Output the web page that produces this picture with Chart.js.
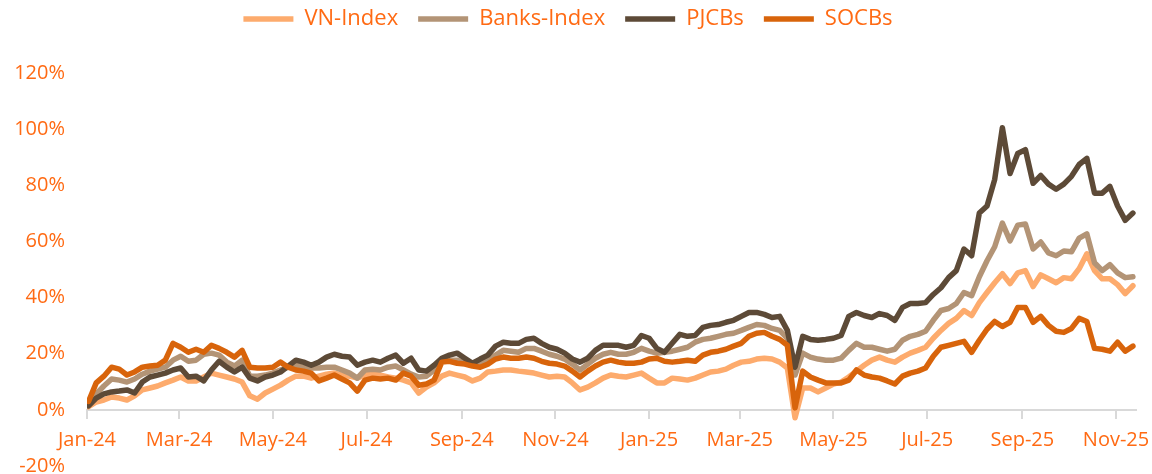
<!DOCTYPE html>
<html>
<head>
<meta charset="utf-8">
<title>Bank stocks vs VN-Index</title>
<script src="https://cdn.jsdelivr.net/npm/chart.js@4.4.1/dist/chart.umd.min.js"></script>
<style>
  html, body { margin: 0; padding: 0; background: #fff; }
  #wrap { width: 1152px; height: 474px; }
</style>
</head>
<body>
<div id="wrap"><canvas id="myChart"></canvas></div>
<script>
// cumulative return (%) since 2 Jan 2024, one reading every 5 calendar days
var startDate = '2024-01-02';
var stepDays = 5;
var endDate = '2025-11-14';

var vnIndex = [
  1.1, 2.8, 3.5, 4.6, 4.2, 3.5, 5.0, 7.1, 7.8, 8.5,
  9.6, 10.6, 11.7, 10.3, 10.3, 11.7, 13.1, 12.4, 11.7, 11.0,
  9.9, 5.0, 3.8, 6.0, 7.4, 8.8, 10.6, 12.0, 12.0, 11.3,
  12.0, 12.7, 13.1, 12.4, 12.0, 11.3, 12.4, 13.1, 12.4, 11.7,
  11.3, 10.6, 9.6, 6.0, 8.1, 9.6, 12.0, 13.1, 12.4, 11.7,
  10.3, 11.3, 13.5, 13.8, 14.2, 14.2, 13.8, 13.5, 13.1, 12.4,
  11.7, 12.0, 11.7, 9.6, 7.1, 8.1, 9.6, 11.3, 12.4, 12.0,
  11.7, 12.4, 13.1, 11.3, 9.6, 9.6, 11.3, 11.0, 10.6, 11.3,
  12.4, 13.5, 13.8, 14.5, 15.9, 17.0, 17.3, 18.1, 18.4, 18.1,
  17.0, 14.9, -2.8, 7.8, 7.8, 6.4, 7.8, 9.2, 9.9, 11.7,
  13.8, 15.9, 17.7, 18.8, 17.7, 17.0, 18.8, 20.2, 21.2, 22.3,
  25.5, 28.3, 30.8, 32.6, 35.4, 33.6, 38.2, 41.8, 45.3, 48.5,
  45.0, 48.8, 49.6, 43.9, 48.1, 46.7, 45.3, 47.1, 46.7, 50.3,
  55.6, 49.6, 46.7, 46.7, 44.6, 41.4, 44.2
];
var banksIndex = [
  2.1, 5.7, 8.5, 11.0, 10.6, 9.9, 11.0, 12.7, 13.8, 14.5,
  15.2, 17.7, 19.1, 17.3, 17.7, 19.8, 20.2, 19.5, 17.0, 15.6,
  17.7, 12.0, 12.0, 12.4, 13.1, 14.2, 15.2, 15.9, 15.2, 14.9,
  14.9, 15.2, 15.2, 14.2, 13.1, 11.3, 14.2, 14.5, 14.2, 15.2,
  15.6, 14.2, 12.7, 11.7, 12.0, 14.2, 17.3, 17.7, 17.7, 16.6,
  15.9, 17.0, 17.7, 19.5, 21.2, 20.9, 20.5, 21.9, 21.9, 20.9,
  19.8, 19.1, 18.1, 16.3, 14.2, 16.3, 18.4, 19.8, 20.5, 19.8,
  19.8, 20.5, 21.9, 20.9, 20.2, 20.5, 20.9, 21.6, 22.3, 24.1,
  25.1, 25.5, 26.2, 26.9, 27.3, 28.3, 29.4, 30.4, 30.1, 29.0,
  28.3, 25.5, 12.4, 20.2, 18.8, 18.1, 17.7, 17.7, 18.4, 21.2,
  23.7, 22.3, 22.3, 21.6, 20.9, 21.6, 24.8, 26.2, 26.9, 28.0,
  31.9, 35.4, 36.1, 37.9, 41.8, 40.7, 47.4, 53.1, 58.1, 66.5,
  60.2, 65.8, 66.2, 57.3, 59.8, 55.9, 54.9, 56.6, 56.3, 61.2,
  62.7, 52.4, 49.6, 51.7, 48.8, 47.1, 47.4
];
var pjcbs = [
  1.4, 4.2, 5.7, 6.4, 6.7, 7.1, 6.0, 9.9, 11.7, 12.4,
  13.1, 14.2, 14.9, 11.7, 12.0, 10.3, 14.2, 17.3, 15.2, 13.5,
  15.2, 11.3, 10.3, 11.7, 12.4, 13.5, 15.6, 17.7, 17.0, 15.9,
  17.0, 18.8, 19.8, 19.1, 18.8, 15.9, 17.0, 17.7, 17.0, 18.4,
  19.5, 16.6, 18.4, 14.2, 13.8, 15.9, 18.4, 19.5, 20.2, 18.4,
  16.6, 18.1, 19.5, 22.7, 24.1, 23.7, 23.7, 25.1, 25.5, 23.7,
  22.3, 21.6, 20.2, 18.1, 17.0, 18.4, 21.2, 23.0, 23.0, 23.0,
  22.3, 23.0, 26.5, 25.5, 21.9, 20.5, 23.7, 26.9, 26.2, 26.5,
  29.4, 30.1, 30.4, 31.2, 31.9, 33.3, 34.7, 34.7, 34.0, 32.9,
  33.3, 28.3, 15.2, 26.2, 25.1, 24.8, 25.1, 25.5, 26.5, 33.3,
  34.7, 33.6, 32.9, 34.3, 33.6, 31.9, 36.5, 37.9, 37.9, 38.2,
  41.1, 43.5, 47.1, 49.6, 57.3, 54.9, 70.1, 72.6, 82.1, 100.5,
  84.2, 91.3, 92.7, 80.7, 83.5, 80.4, 78.6, 80.4, 83.2, 87.4,
  89.6, 77.2, 77.2, 79.6, 72.6, 67.5, 70.1
];
var socbs = [
  3.0, 9.6, 12.0, 15.2, 14.5, 12.4, 13.5, 15.2, 15.6, 15.9,
  17.7, 23.7, 22.3, 20.5, 21.6, 20.5, 23.0, 21.9, 20.5, 18.8,
  21.2, 15.2, 14.9, 14.9, 15.2, 17.0, 15.2, 14.2, 13.8, 13.1,
  10.3, 11.3, 12.4, 11.0, 9.6, 6.7, 10.6, 11.3, 11.0, 11.3,
  10.6, 13.1, 12.0, 8.8, 9.2, 10.6, 17.0, 17.3, 16.6, 16.3,
  15.6, 15.2, 16.3, 18.1, 18.8, 18.4, 18.4, 18.8, 18.4, 17.3,
  16.6, 16.3, 15.6, 13.8, 11.7, 13.8, 15.6, 17.0, 17.7, 17.0,
  16.6, 16.6, 17.0, 18.1, 18.4, 17.3, 17.0, 17.3, 17.7, 17.3,
  19.5, 20.5, 20.9, 21.6, 22.7, 23.7, 26.2, 27.3, 27.6, 26.2,
  25.1, 23.0, 0.7, 13.8, 11.7, 10.6, 9.6, 9.6, 9.6, 10.6,
  14.2, 12.4, 11.7, 11.3, 10.3, 9.2, 12.0, 13.1, 13.8, 14.9,
  19.1, 22.3, 23.0, 23.7, 24.4, 20.5, 24.8, 28.7, 31.5, 29.7,
  31.2, 36.5, 36.5, 31.2, 33.3, 30.1, 28.0, 27.6, 29.0, 32.6,
  31.5, 21.9, 21.6, 20.9, 24.1, 20.9, 22.7
];
var tickMonths = ['2024-01', '2024-03', '2024-05', '2024-07', '2024-09', '2024-11',
                  '2025-01', '2025-03', '2025-05', '2025-07', '2025-09', '2025-11'];
var monthNames = ['Jan', 'Feb', 'Mar', 'Apr', 'May', 'Jun', 'Jul', 'Aug', 'Sep', 'Oct', 'Nov', 'Dec'];

var textColor = '#ff6a13';
var DAY = 86400000;
var origin = Date.UTC(2024, 0, 1);

function dayOf(str) {
  var p = str.split('-');
  return (Date.UTC(+p[0], +p[1] - 1, +(p[2] || 1)) - origin) / DAY;
}
function dayLabel(d) {
  var dt = new Date(origin + d * DAY);
  return monthNames[dt.getUTCMonth()] + '-' + String(dt.getUTCFullYear()).slice(2);
}
var firstDay = dayOf(startDate);
function toPoints(arr) {
  return arr.map(function (v, i) { return { x: firstDay + i * stepDays, y: v }; });
}
function series(label, values, color, order) {
  return {
    label: label,
    data: toPoints(values),
    borderColor: color,
    backgroundColor: color,
    borderWidth: 5.5,
    pointRadius: 0,
    tension: 0,
    borderJoinStyle: 'round',
    borderCapStyle: 'round',
    order: order
  };
}
var tickDays = tickMonths.map(dayOf);

// push the plot down a bit below the legend
var legendGap = {
  id: 'legendGap',
  beforeInit: function (chart) {
    var fit = chart.legend.fit;
    chart.legend.fit = function () {
      fit.call(this);
      this.height += 33;
    };
  }
};

Chart.defaults.font.family = "'Open Sans', 'DejaVu Sans', sans-serif";

var ctx = document.getElementById('myChart').getContext('2d');
var myChart = new Chart(ctx, {
  type: 'line',
  data: {
    datasets: [
      series('VN-Index', vnIndex, '#fdab6d', 4),
      series('Banks-Index', banksIndex, '#b39476', 3),
      series('PJCBs', pjcbs, '#5d4a37', 2),
      series('SOCBs', socbs, '#d8640b', 1)
    ]
  },
  options: {
    responsive: true,
    maintainAspectRatio: false,
    animation: false,
    layout: { padding: { top: -12, right: 16, bottom: 8, left: 0 } },
    plugins: {
      tooltip: { enabled: false },
      legend: {
        position: 'top',
        labels: {
          usePointStyle: true,
          pointStyle: 'line',
          pointStyleWidth: 50,
          color: textColor,
          font: { size: 22 },
          padding: 20,
          sort: function (a, b) { return a.datasetIndex - b.datasetIndex; }
        }
      }
    },
    scales: {
      x: {
        type: 'linear',
        position: { y: 0 },
        min: 0,
        max: dayOf(endDate),
        afterBuildTicks: function (scale) {
          scale.ticks = tickDays.map(function (d) { return { value: d }; });
        },
        afterFit: function (scale) {
          scale.height = 0;
          scale.paddingLeft = 0;
          scale.paddingRight = 0;
        },
        ticks: {
          color: textColor,
          font: { size: 20 },
          padding: 10,
          maxRotation: 0,
          autoSkip: false,
          callback: function (v) { return dayLabel(v); }
        },
        grid: { drawOnChartArea: false, color: '#d9d9d9', lineWidth: 2, tickLength: 8 },
        border: { color: '#d9d9d9', width: 2 }
      },
      y: {
        min: -20,
        max: 120,
        afterFit: function (scale) {
          scale.width = 87;
          scale.paddingTop = 0;
          scale.paddingBottom = 0;
        },
        ticks: {
          stepSize: 20,
          color: textColor,
          font: { size: 20, lineHeight: 0.8 },
          padding: 22,
          callback: function (v) { return v + '%'; }
        },
        grid: { display: false, drawTicks: false },
        border: { display: false }
      }
    }
  },
  plugins: [legendGap]
});
</script>
</body>
</html>
